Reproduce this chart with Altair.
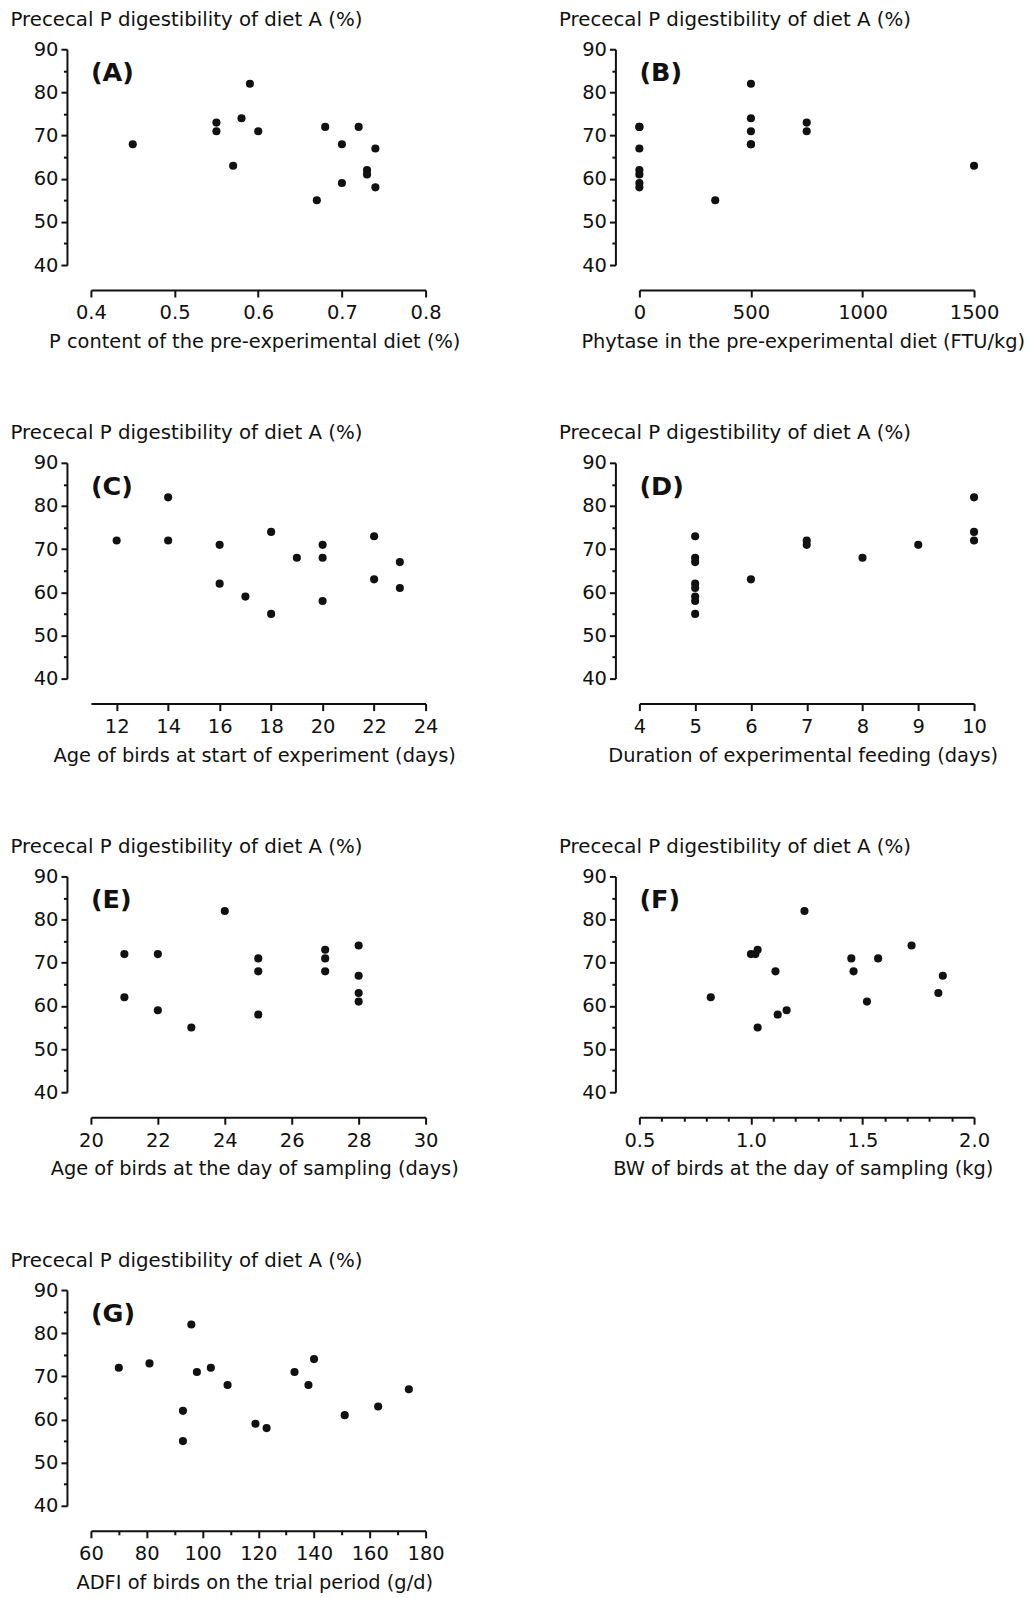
import altair as alt
import pandas as pd

# ---------------- data ----------------
Y_TITLE = "Prececal P digestibility of diet A (%)"

A_x = [0.45, 0.55, 0.55, 0.57, 0.58, 0.59, 0.60, 0.67, 0.68, 0.70, 0.70, 0.72, 0.73, 0.73, 0.74, 0.74]
A_y = [68, 73, 71, 63, 74, 82, 71, 55, 72, 68, 59, 72, 62, 61, 67, 58]

B_x = [0, 0, 0, 0, 0, 0, 0, 340, 500, 500, 500, 500, 500, 750, 750, 1500]
B_y = [72, 72, 67, 62, 61, 59, 58, 55, 82, 74, 71, 68, 68, 73, 71, 63]

C_x = [12, 14, 14, 16, 16, 17, 18, 18, 19, 20, 20, 20, 22, 22, 23, 23]
C_y = [72, 82, 72, 71, 62, 59, 74, 55, 68, 71, 68, 58, 73, 63, 67, 61]

D_x = [5, 5, 5, 5, 5, 5, 5, 5, 6, 7, 7, 8, 9, 10, 10, 10]
D_y = [73, 68, 67, 62, 61, 59, 58, 55, 63, 72, 71, 68, 71, 82, 74, 72]

E_x = [21, 21, 22, 22, 23, 24, 25, 25, 25, 27, 27, 27, 28, 28, 28, 28]
E_y = [72, 62, 72, 59, 55, 82, 71, 68, 58, 73, 71, 68, 74, 67, 63, 61]

F_x = [0.82, 1.00, 1.02, 1.03, 1.03, 1.11, 1.12, 1.16, 1.24, 1.45, 1.46, 1.52, 1.57, 1.72, 1.84, 1.86]
F_y = [62, 72, 72, 73, 55, 68, 58, 59, 82, 71, 68, 61, 71, 74, 63, 67]

G_x = [70, 81, 93, 93, 96, 98, 103, 109, 119, 123, 133, 138, 140, 151, 163, 174]
G_y = [72, 73, 62, 55, 82, 71, 72, 68, 59, 58, 71, 68, 74, 61, 63, 67]

panels_def = [
    ("(A)", A_x, A_y, "P content of the pre-experimental diet (%)", [0.4, 0.8], 0.1, 0.1, ".1f"),
    ("(B)", B_x, B_y, "Phytase in the pre-experimental diet (FTU/kg)", [0, 1500], 500, 500, "d"),
    ("(C)", C_x, C_y, "Age of birds at start of experiment (days)", [11, 24], 2, 2, "d"),
    ("(D)", D_x, D_y, "Duration of experimental feeding (days)", [4, 10], 1, 1, "d"),
    ("(E)", E_x, E_y, "Age of birds at the day of sampling (days)", [20, 30], 2, 2, "d"),
    ("(F)", F_x, F_y, "BW of birds at the day of sampling (kg)", [0.5, 2.0], 0.5, 0.1, ".1f"),
    ("(G)", G_x, G_y, "ADFI of birds on the trial period (g/d)", [60, 180], 20, 10, "d"),
]

Y_DOMAIN = [40, 90]
Y_MAJOR = 10
Y_MINOR = 5

W, H = 335, 216
INK = "#111111"
FONT = "DejaVu Sans"


def tick_values(lo, hi, step, start=None):
    s = lo if start is None else start
    vals = []
    i = 0
    while s + i * step <= hi + 1e-9:
        vals.append(round(s + i * step, 6))
        i += 1
    return vals


def major_test(step):
    return f"abs(datum.value/{step} - round(datum.value/{step})) < 0.001"


def make_panel(letter, xs, ys, xtitle, xdom, xmaj, xmin, fmt):
    df = pd.DataFrame({"x": xs, "y": ys})
    start = xdom[0]
    if fmt == "d" and xdom[0] % xmin != 0:
        start = xdom[0] + (xmin - xdom[0] % xmin)
    xvals = tick_values(xdom[0], xdom[1], xmin, start)
    xaxis = alt.Axis(
        title=xtitle,
        values=xvals,
        format=fmt,
        labelExpr=f"{major_test(xmaj)} ? datum.label : ''",
        tickSize={"condition": {"test": major_test(xmaj), "value": 7}, "value": 4},
        offset=25,
        labelPadding=7,
        titlePadding=10,
        titleFontSize=19.4,
        titleX=W / 2 - 4,
        labelFlush=False,
        labelOverlap=False,
        grid=False,
    )
    yvals = tick_values(Y_DOMAIN[0], Y_DOMAIN[1], Y_MINOR)
    yaxis = alt.Axis(
        title=Y_TITLE,
        values=yvals,
        format="d",
        labelExpr=f"{major_test(Y_MAJOR)} ? datum.label : ''",
        tickSize={"condition": {"test": major_test(Y_MAJOR), "value": 6}, "value": 3.5},
        offset=24,
        labelPadding=3,
        labelFlush=False,
        labelOverlap=False,
        titleFontSize=19.8,
        titleAngle=0,
        titleAlign="left",
        titleBaseline="alphabetic",
        titleX=-57,
        titleY=-24,
        grid=False,
    )
    pts = alt.Chart(df).mark_circle(size=66, color=INK, opacity=1).encode(
        x=alt.X("x:Q", scale=alt.Scale(domain=xdom, nice=False, zero=False), axis=xaxis),
        y=alt.Y("y:Q", scale=alt.Scale(domain=Y_DOMAIN, nice=False, zero=False), axis=yaxis),
    )
    lab = alt.Chart(pd.DataFrame({"t": [letter]})).mark_text(
        font=FONT, fontSize=25.5, fontWeight="bold", align="left", baseline="alphabetic", color=INK
    ).encode(text="t:N", x=alt.value(0), y=alt.value(32))
    return alt.layer(pts, lab).properties(width=W, height=H)


panels = [make_panel(*p) for p in panels_def]

chart = alt.concat(
    *panels, columns=2, spacing={"row": 198, "column": 214}, bounds="flush"
).properties(
    padding={"left": 2, "top": 0.5, "right": 0, "bottom": 4}
).configure_view(stroke=None).configure_axis(
    domainColor=INK, domainWidth=2, tickColor=INK, tickWidth=2,
    labelFont=FONT, labelFontSize=19.5, labelColor=INK,
    titleFont=FONT, titleFontWeight="normal", titleColor=INK,
)

chart.save("out.html", embed_options={"renderer": "svg", "actions": False})
